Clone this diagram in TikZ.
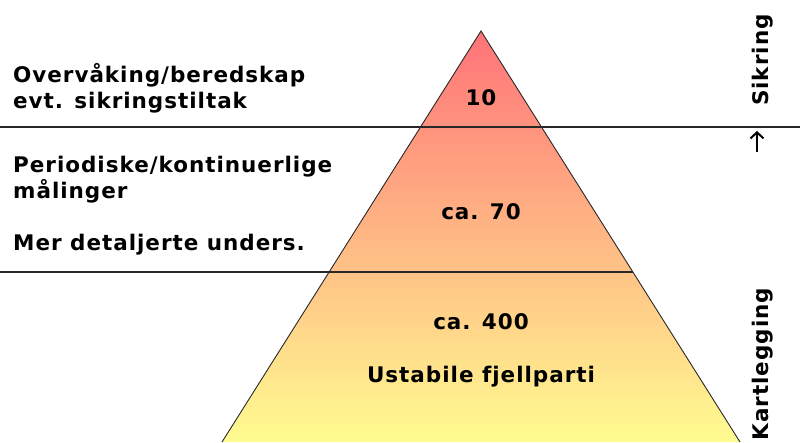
\documentclass[tikz,border=0pt]{standalone}
\usepackage{fontspec}
\setmainfont{DejaVu Sans}[LetterSpace=4.5]
\usetikzlibrary{arrows.meta}
\definecolor{ctop}{RGB}{255,115,120}
\definecolor{cmid}{RGB}{255,200,140}
\definecolor{cbot}{RGB}{255,252,145}
\definecolor{lin}{RGB}{40,40,40}
\begin{document}
\begin{tikzpicture}[x=1pt,y=-1pt,
  lbl/.style={font=\bfseries\fontsize{21.5}{25}\selectfont, inner sep=0pt},
  rulerline/.style={draw=lin, line width=1.1pt}]
\useasboundingbox (0,0) rectangle (800,442);
\coordinate (A) at (481,31);
\coordinate (BL) at (222,442);
\coordinate (BR) at (740,442);
\shade[top color=ctop, middle color=cmid, bottom color=cbot] (A) -- (BL) -- (BR) -- cycle;
\draw[lin, line width=0.9pt] (BL) -- (A) -- (BR);
\coordinate (L1a) at (0,127);
\coordinate (L1b) at (800,127);
\coordinate (L2a) at (0,272);
\coordinate (L2b) at (633,272);
\draw[rulerline] (L1a) -- (L1b);
\draw[rulerline] (L2a) -- (L2b);
% left texts
\node[lbl, anchor=base west] (t1) at (13,82) {Overvåking/beredskap};
\node[lbl, anchor=base west] (t2) at (13,108) {evt. sikringstiltak};
\node[lbl, anchor=base west] (t3) at (13,172) {Periodiske/kontinuerlige};
\node[lbl, anchor=base west] (t4) at (13,198) {målinger};
\node[lbl, anchor=base west] (t5) at (13,250) {Mer detaljerte unders.};
% pyramid texts
\node[lbl] (n10) at (481,98) {10};
\node[lbl] (n70) at (481,212) {ca. 70};
\node[lbl] (n400) at (481,322) {ca. 400};
\node[lbl] (nu) at (481,377) {Ustabile fjellparti};
% right labels
\node[lbl, rotate=90] (sik) at (763,60) {Sikring};
\node[lbl, rotate=90] (kar) at (763,364) {Kartlegging};
\coordinate (ar1) at (757,152);
\coordinate (ar2) at (757,131);
\draw[-{Straight Barb[length=6pt,width=13pt]}, line width=2pt] (ar1) -- (ar2);
\end{tikzpicture}
\end{document}
